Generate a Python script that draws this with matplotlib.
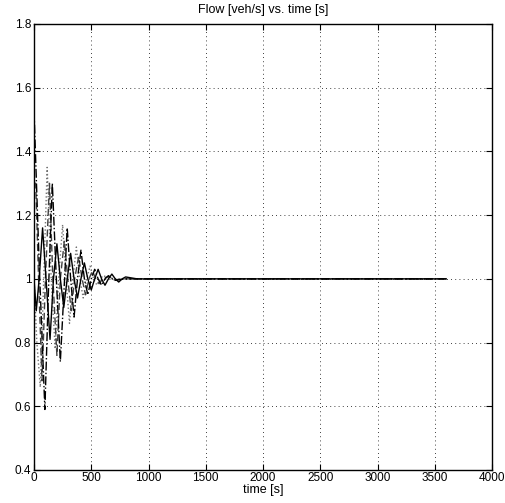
import matplotlib
matplotlib.use("Agg")
import matplotlib.pyplot as plt
from matplotlib.ticker import FuncFormatter

plt.rcParams['font.family'] = ['Liberation Sans Narrow', 'Liberation Sans', 'DejaVu Sans']

# Data
t_solid = [0, 20, 45, 75, 105, 140, 170, 200, 230, 260, 290, 320, 350, 380, 410, 440,
           470, 500, 530, 560, 590, 620, 650, 680, 710, 740, 770, 800, 900, 1000, 3600]
v_solid = [1.0, 0.90, 1.0, 1.16, 1.0, 0.81, 1.0, 1.11, 1.0, 0.91, 1.0, 1.08, 1.0, 0.94, 1.0, 1.05,
           1.0, 0.965, 1.0, 1.03, 1.0, 0.98, 1.0, 1.015, 1.0, 0.99, 1.0, 1.006, 1.0, 1.0, 1.0]

t_dashdot = [0, 45, 95, 125, 160, 195, 230, 260, 290, 320, 350, 380, 410, 440, 470, 500,
             530, 560, 590, 620, 650, 700, 800, 1000, 3600]
v_dashdot = [1.53, 1.05, 0.59, 0.95, 1.30, 1.0, 0.74, 0.95, 1.16, 1.0, 0.88, 1.0, 1.09, 1.0, 0.95, 1.0,
             1.03, 1.0, 0.98, 1.0, 1.01, 0.995, 1.0, 1.0, 1.0]

t_dashed = [0, 15, 40, 70, 100, 135, 165, 200, 230, 265, 295, 325, 355, 390, 420, 450,
            480, 510, 540, 570, 600, 650, 700, 800, 1000, 3600]
v_dashed = [1.30, 1.30, 1.0, 0.68, 1.0, 1.30, 1.0, 0.76, 1.0, 1.12, 1.0, 0.90, 1.0, 1.07, 1.0, 0.95,
            1.0, 1.025, 1.0, 0.985, 1.0, 1.008, 0.997, 1.0, 1.0, 1.0]

t_dotted = [0, 25, 55, 85, 115, 150, 185, 215, 250, 280, 310, 340, 370, 400, 430, 460,
            490, 520, 550, 600, 700, 1000, 3600]
v_dotted = [1.0, 0.8, 0.66, 1.0, 1.35, 1.0, 0.78, 1.0, 1.17, 1.0, 0.86, 1.0, 1.1, 1.0, 0.94, 1.0,
            1.04, 1.0, 0.98, 1.01, 1.0, 1.0, 1.0]

x_ticks = [0, 500, 1000, 1500, 2000, 2500, 3000, 3500, 4000]
y_ticks = [0.4, 0.6, 0.8, 1.0, 1.2, 1.4, 1.6, 1.8]

fig = plt.figure(figsize=(5.05, 5.03), dpi=100)
ax = fig.add_axes([34/505, 33/503, 458/505, 446/503])

ax.plot(t_dotted, v_dotted, linestyle=':', color='0.45', lw=1.0)
ax.plot(t_dashed, v_dashed, linestyle='--', color='0.25', lw=1.0, dashes=(5, 2.5))
ax.plot(t_dashdot, v_dashdot, linestyle='-.', color='black', lw=1.0)
ax.plot(t_solid, v_solid, linestyle='-', color='black', lw=1.0)

ax.set_xlim(0, 4000)
ax.set_ylim(0.4, 1.8)
ax.set_xticks(x_ticks)
ax.set_yticks(y_ticks)
ax.yaxis.set_major_formatter(FuncFormatter(lambda v, p: '%g' % round(v, 2)))
ax.xaxis.set_major_formatter(FuncFormatter(lambda v, p: '%g' % v))
ax.tick_params(direction='in', top=True, right=True, length=4, width=0.8, labelsize=8.5)
ax.tick_params(axis='x', pad=1.5)
ax.tick_params(axis='y', pad=2)
ax.grid(True, linestyle=(0, (1, 4)), color='black', lw=0.6)
for s in ax.spines.values():
    s.set_linewidth(1.0)

ax.set_title('Flow [veh/s] vs. time [s]', fontsize=9, pad=8)
ax.set_xlabel('time [s]', fontsize=9, labelpad=0)

fig.savefig('out.png', dpi=100)
